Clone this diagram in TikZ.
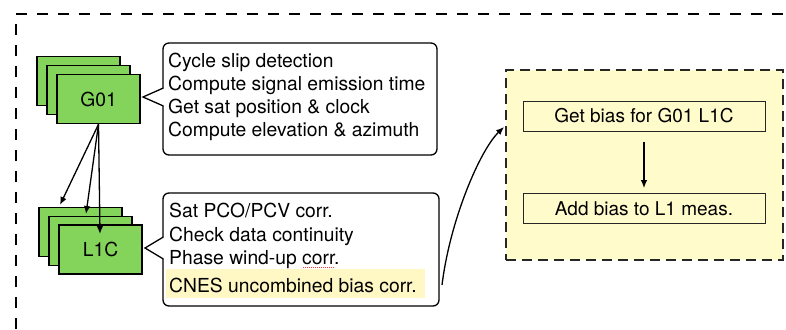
\documentclass[tikz,border=0pt]{standalone}
\usepackage{fontspec}
\setmainfont{TeX Gyre Heros}
\usetikzlibrary{arrows.meta}
\definecolor{satgreen}{HTML}{84D45C}
\definecolor{paleyellow}{HTML}{FFFBCB}
\definecolor{hiyellow}{HTML}{FFF8C4}
\tikzset{
  satbox/.style={draw=black, fill=satgreen, line width=1.6pt,
    minimum width=83pt, minimum height=49pt, inner sep=0pt,
    font=\fontsize{19.3}{23}\selectfont},
  callout/.style={draw=black, fill=white, line width=1.3pt, rounded corners=6pt,
    inner sep=0pt},
  txt/.style={anchor=base west, inner sep=0pt, font=\fontsize{19.3}{23}\selectfont},
  stepbox/.style={draw=black!85, line width=0.8pt, minimum width=242pt,
    minimum height=30pt, inner sep=0pt, font=\fontsize{19}{23}\selectfont},
  arr/.style={-{Latex[length=8pt,width=6.5pt]}, line width=1.3pt},
}
\begin{document}
\begin{tikzpicture}[x=1pt,y=-1pt]
\useasboundingbox (0,0) rectangle (786,329);

% outer dashed frame (open to the right and bottom)
\draw[line width=2pt, dash pattern=on 11pt off 10pt] (16,329) -- (16,14) -- (786,14);

% satellite stack
\node[satbox] (g1c) at (78.5,81) {};
\node[satbox] (g1b) at (88.5,90) {};
\node[satbox] (g1) at (98.5,99) {G01};

% signal stack
\node[satbox] (l1c) at (80.5,232) {};
\node[satbox] (l1b) at (90.5,241) {};
\node[satbox] (l1) at (100.5,249.5) {L1C};

% first callout
\node[callout, minimum width=274pt, minimum height=112pt] (c1) at (300,99) {};
\fill[white] (164,88) -- (143,97) -- (164,106) -- cycle;
\draw[line width=1.3pt, line join=miter] (163.4,88) -- (143,97) -- (163.4,106);
\node[txt] (t11) at (168,67) {Cycle slip detection};
\node[txt] (t12) at (168,90) {Compute signal emission time};
\node[txt] (t13) at (168,113) {Get sat position \& clock};
\node[txt] (t14) at (168,136) {Compute elevation \& azimuth};

% second callout
\node[callout, minimum width=276pt, minimum height=113pt] (c2) at (301,249.5) {};
\fill[white] (164,237) -- (145,248) -- (164,259) -- cycle;
\draw[line width=1.3pt, line join=miter] (163.4,237) -- (145,248) -- (163.4,259);
\fill[hiyellow] (166,269) rectangle (425,298);
\node[txt] (t21) at (169,217) {Sat PCO/PCV corr.};
\node[txt] (t22) at (169,241) {Check data continuity};
\node[txt] (t23) at (169,264) {Phase wind-up corr.};
\node[txt] (t24) at (169,292) {CNES uncombined bias corr.};
\draw[red!80, line width=0.9pt, dash pattern=on 1pt off 1pt] (303,267) -- (335,267);

% satellite to signal arrows
\coordinate (a1) at (60,205);
\coordinate (a2) at (86,214);
\coordinate (a3) at (100,234);
\draw[arr] (g1.south) -- (a1);
\draw[arr] (g1.south) -- (a2);
\draw[arr] (g1.south) -- (a3);

% bias correction detail
\node[draw=black!85, fill=paleyellow, line width=1.5pt, dash pattern=on 10pt off 6pt,
  minimum width=277pt, minimum height=190pt, inner sep=0pt] (yb) at (644.5,165) {};
\node[stepbox] (b1) at (644,116) {Get bias for G01 L1C};
\node[stepbox] (b2) at (644,208.5) {Add bias to L1 meas.};
\draw[arr, shorten <=11pt, shorten >=5pt] (b1.south) -- (b2.north);

\coordinate (cs) at (442,285);
\coordinate (ce) at (504,127);
\draw[arr] (cs) .. controls (450,220) and (480,150) .. (ce);
\end{tikzpicture}
\end{document}
